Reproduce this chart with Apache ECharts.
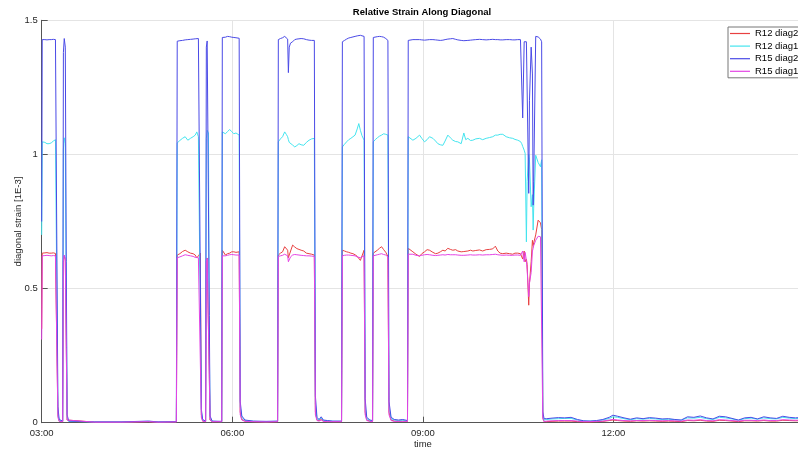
<!DOCTYPE html>
<html>
<head>
<meta charset="utf-8">
<script src="https://cdn.jsdelivr.net/npm/echarts@6/dist/echarts.min.js"></script>
<style>html,body{margin:0;padding:0;background:#fff}#c{width:798px;height:455px}</style>
</head>
<body>
<div id="c"></div>
<script>
// time in minutes after midnight
var times = [
180,180.5,183,185,187,189,191,193,194.2,195.3,196.5,198,199.8,200.5,201.3,202.3,203.2,204,205.5,230,255,281,290,307.2,
308,310.5,313,315.5,318,320.5,323,325,326.5,328,329.8,330.8,332,334.8,
335.5,336.3,337.5,338.3,339,341,350,
350.6,352,353.5,355.5,357.5,359.5,361.5,363.5,366.5,367.5,369,372,380,392,402.8,
403.5,405.5,407.5,409.5,411,412.3,413,413.8,415,417,419,421,423,425,427.5,430,432.5,435,437.5,438.5,440,442,444,446,450,455,463.2,
464,466,468,470,472,474,476,478,479.5,481,482.5,484.5,485.5,487,490,492.5,
493.2,495,497,499,501,503,505,507,508,510,513,517,521,525.5,
526.2,530.6,533.5,536.9,539,541.6,544,546.3,549.5,552,554.2,556.5,558.9,561,563.6,566,568.3,571,573,576.2,578.7,580.5,582.5,585,587.2,590,593.5,596.5,599.8,603,606,608.5,610.8,613,615.5,618.7,622,624.9,627,629.6,632.2,
633.4,634.3,635.7,636.6,637.8,638.5,640,640.7,642.3,643.5,644.2,644.7,646.6,648.9,651.1,652.2,653.3,654.5,
657,662,668,674,680,686,692,698,704,710,716,719.5,724,730,736,742,748,754,760,766,772,778,784,790,796,802,808,814,820,826,832,838,844,850,856,862,868,874,880,886,892,898
];
var r15diag2 = [
.75,1.428,1.428,1.427,1.428,1.428,1.429,1.428,1.426,.06,.012,.005,.006,1.38,1.432,1.40,.60,.03,.006,.003,.003,.006,.003,.004,
1.422,1.424,1.425,1.427,1.428,1.429,1.430,1.431,1.432,1.432,1.430,.05,.012,.006,
1.40,1.423,1.420,.40,.025,.006,.005,
1.436,1.438,1.437,1.440,1.439,1.437,1.436,1.435,1.433,.08,.025,.01,.006,.005,.006,
1.428,1.432,1.435,1.440,1.444,1.430,1.305,1.40,1.415,1.420,1.428,1.430,1.431,1.432,1.431,1.428,1.426,1.425,1.425,.10,.02,.012,.022,.01,.008,.006,.006,
1.420,1.425,1.430,1.434,1.436,1.438,1.440,1.442,1.444,1.444,1.443,1.440,.09,.02,.01,.008,
1.436,1.438,1.439,1.440,1.439,1.437,1.432,1.425,.08,.02,.012,.01,.012,.008,
1.425,1.428,1.428,1.428,1.427,1.426,1.427,1.428,1.428,1.427,1.426,1.425,1.426,1.428,1.430,1.431,1.432,1.429,1.427,1.425,1.424,1.425,1.425,1.426,1.427,1.428,1.429,1.428,1.427,1.428,1.429,1.428,1.428,1.427,1.427,1.428,1.428,1.427,1.427,1.428,1.428,
1.425,1.136,1.420,1.425,1.420,1.425,.855,1.200,1.400,1.300,.811,.900,1.440,1.438,1.430,1.420,.04,.015,
.015,.017,.019,.018,.020,.012,.007,.006,.008,.012,.020,.028,.024,.018,.013,.018,.015,.019,.017,.014,.015,.012,.010,.022,.020,.025,.018,.014,.024,.022,.016,.010,.018,.020,.014,.022,.018,.016,.024,.020,.018,.020
];
var r12diag1 = [
.70,1.047,1.045,1.040,1.040,1.043,1.050,1.055,1.060,.04,.008,.004,.005,1.02,1.062,1.04,.45,.02,.005,.003,.003,.005,.003,.004,
1.043,1.052,1.060,1.066,1.053,1.060,1.066,1.072,1.084,1.066,1.060,.04,.01,.005,
1.06,1.090,1.080,.30,.02,.005,.004,
1.084,1.080,1.077,1.085,1.093,1.085,1.077,1.080,1.072,.06,.02,.008,.005,.004,.005,
1.047,1.058,1.066,1.084,1.075,1.066,1.055,1.045,1.040,1.035,1.028,1.033,1.040,1.036,1.034,1.045,1.053,1.058,1.060,.07,.015,.01,.018,.008,.007,.005,.005,
1.028,1.038,1.047,1.055,1.060,1.066,1.072,1.095,1.115,1.090,1.070,1.053,.06,.015,.008,.006,
1.047,1.055,1.062,1.068,1.072,1.077,1.075,1.072,.06,.015,.01,.008,.009,.007,
1.066,1.053,1.060,1.072,1.060,1.047,1.055,1.066,1.060,1.050,1.040,1.036,1.034,1.050,1.072,1.062,1.053,1.048,1.047,1.040,1.080,1.055,1.060,1.052,1.053,1.058,1.060,1.055,1.060,1.063,1.066,1.072,1.072,1.075,1.075,1.066,1.062,1.060,1.056,1.053,1.048,
1.040,1.030,1.016,1.004,.674,.900,1.000,.980,.805,.850,.718,.800,.997,.970,.954,.980,.03,.010,
.012,.014,.015,.016,.016,.010,.006,.006,.007,.010,.016,.022,.020,.015,.011,.015,.013,.016,.014,.012,.013,.011,.009,.018,.017,.020,.015,.012,.020,.018,.014,.009,.015,.017,.013,.018,.015,.014,.020,.017,.015,.017
];
var r12diag2 = [
.35,.632,.633,.634,.632,.632,.633,.631,.630,.03,.006,.003,.004,.60,.622,.61,.30,.01,.004,.002,.002,.004,.002,.003,
.625,.630,.638,.643,.637,.632,.630,.625,.614,.622,.632,.03,.006,.004,
.60,.614,.612,.18,.01,.004,.004,
.643,.637,.625,.630,.632,.637,.637,.635,.637,.04,.012,.006,.004,.003,.004,
.625,.632,.637,.656,.650,.643,.615,.625,.620,.662,.655,.649,.646,.643,.640,.632,.630,.628,.625,.04,.01,.008,.012,.006,.005,.004,.004,
.643,.640,.637,.635,.632,.630,.626,.620,.614,.605,.600,.643,.04,.01,.006,.005,
.632,.638,.643,.650,.656,.645,.635,.620,.04,.01,.006,.005,.006,.005,
.650,.637,.628,.620,.630,.637,.645,.643,.635,.630,.632,.637,.643,.640,.650,.646,.643,.645,.640,.637,.638,.636,.640,.643,.640,.642,.644,.640,.645,.646,.648,.658,.640,.632,.630,.632,.630,.628,.632,.632,.630,
.625,.610,.640,.600,.610,.590,.438,.520,.600,.680,.660,.670,.700,.755,.745,.720,.02,.004,
.004,.005,.006,.006,.006,.004,.003,.003,.004,.005,.008,.010,.008,.006,.005,.007,.006,.007,.006,.005,.006,.005,.004,.008,.007,.009,.006,.005,.009,.008,.006,.004,.007,.007,.006,.008,.006,.006,.009,.008,.007,.008
];
var r15diag1 = [
.31,.622,.623,.624,.623,.622,.623,.622,.620,.02,.005,.003,.004,.60,.625,.61,.28,.01,.004,.002,.002,.004,.002,.003,
.615,.618,.622,.626,.624,.622,.620,.616,.610,.615,.622,.02,.006,.004,
.60,.612,.610,.17,.01,.004,.004,
.622,.625,.622,.624,.626,.627,.626,.625,.625,.03,.01,.005,.004,.003,.004,
.620,.622,.624,.628,.626,.622,.600,.606,.618,.625,.627,.626,.625,.624,.623,.622,.622,.621,.620,.03,.008,.006,.01,.005,.004,.004,.004,
.622,.624,.625,.625,.624,.623,.622,.618,.612,.615,.620,.622,.03,.008,.005,.004,
.622,.624,.626,.628,.630,.627,.625,.618,.03,.008,.005,.005,.005,.005,
.628,.628,.624,.622,.624,.626,.627,.626,.624,.623,.624,.625,.626,.625,.627,.626,.626,.626,.625,.624,.624,.624,.625,.626,.625,.625,.626,.625,.626,.626,.627,.628,.626,.625,.624,.625,.624,.624,.625,.625,.624,
.618,.640,.600,.635,.605,.570,.470,.520,.560,.640,.650,.660,.680,.695,.693,.690,.015,.004,
.006,.007,.008,.008,.008,.006,.004,.004,.005,.006,.010,.012,.010,.008,.007,.008,.008,.009,.008,.007,.008,.007,.006,.010,.009,.011,.008,.007,.011,.010,.008,.006,.009,.009,.008,.010,.008,.008,.011,.010,.009,.010
];
var seriesNames = ['R12 diag2','R12 diag1','R15 diag2','R15 diag1'];
var seriesValues = [r12diag2, r12diag1, r15diag2, r15diag1];
var seriesColors = ['#e84040','#44e4ee','#4a4ae6','#e444e4'];
var yTicks = [0, 0.5, 1, 1.5];

function pairs(vals){ return times.map(function(t,i){ return [t, vals[i]]; }); }
function pad(n){ return (n<10?'0':'') + n; }

var font = 'Liberation Sans, Arial, Helvetica, sans-serif';
var chart = echarts.init(document.getElementById('c'), null, {renderer:'canvas'});
chart.setOption({
  animation: false,
  backgroundColor: '#fff',
  title: {
    text: 'Relative Strain Along Diagonal',
    left: 417, top: 2, textAlign: 'center',
    textStyle: {fontFamily: font, fontSize: 9.5, fontWeight: 'bold', color: '#000'}
  },
  legend: {
    orient: 'vertical', left: 728, top: 27,
    itemWidth: 20, itemHeight: 1.2, itemGap: 1.6, icon: 'rect',
    padding: [1, 4, 1, 2],
    borderColor: '#777', borderWidth: 1, backgroundColor: '#fff',
    itemStyle: {borderWidth: 0},
    textStyle: {fontFamily: font, fontSize: 9.5, color: '#000', lineHeight: 11},
    data: seriesNames.map(function(n, i){ return {name: n, itemStyle: {color: seriesColors[i], borderWidth: 0}}; })
  },
  grid: {left: 41.7, right: -6, top: 20.3, bottom: 32.3, containLabel: false, outerBoundsMode: 'none'},
  xAxis: {
    type: 'value', min: 180, max: 900, interval: 180,
    name: 'time', nameLocation: 'middle', nameGap: 17, nameMoveOverlap: false,
    nameTextStyle: {fontFamily: font, fontSize: 9.5, color: '#262626'},
    axisLine: {lineStyle: {color: '#555', width: 1}},
    axisTick: {inside: true, length: 6, lineStyle: {color: '#555'}},
    axisLabel: {fontFamily: font, fontSize: 9.5, color: '#262626', margin: 6, showMaxLabel: false,
      formatter: function(v){ return pad(Math.floor(v/60)) + ':' + pad(Math.round(v%60)); }},
    splitLine: {show: true, lineStyle: {color: '#e4e4e4', width: 1}}
  },
  yAxis: {
    type: 'value', min: yTicks[0], max: yTicks[yTicks.length-1], interval: 0.5,
    name: 'diagonal strain [1E-3]', nameLocation: 'middle', nameGap: 18, nameMoveOverlap: false,
    nameTextStyle: {fontFamily: font, fontSize: 9.5, color: '#262626'},
    axisLine: {show: true, lineStyle: {color: '#555', width: 1}},
    axisTick: {show: true, inside: true, length: 6, lineStyle: {color: '#555'}},
    axisLabel: {fontFamily: font, fontSize: 9.5, color: '#262626', margin: 4},
    splitLine: {show: true, lineStyle: {color: '#e4e4e4', width: 1}}
  },
  series: seriesNames.map(function(n, i){
    return {
      name: n, type: 'line', data: pairs(seriesValues[i]),
      showSymbol: false, symbol: 'none', z: 2 + i,
      lineStyle: {color: seriesColors[i], width: 1},
      itemStyle: {color: seriesColors[i]}
    };
  })
});
</script>
</body>
</html>
